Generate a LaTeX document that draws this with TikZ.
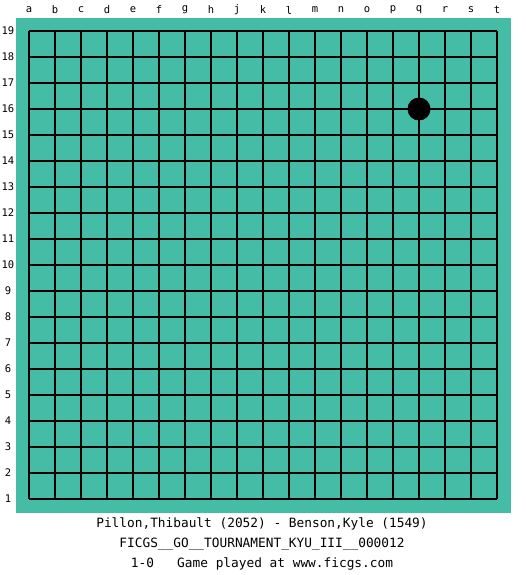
\documentclass[tikz,border=0pt]{standalone}
\usepackage{fontspec}
\setmonofont{DejaVu Sans Mono}
\definecolor{boardgreen}{RGB}{69,189,166}

\begin{document}
\begin{tikzpicture}[
    x = 1pt,
    y = -1pt,
    line width = 1.1pt,
    coord/.style = {
      font = \ttfamily\fontsize{10.5}{12}\selectfont,
      inner sep = 0pt
    },
    caption/.style = {
      font = \ttfamily\fontsize{12.8}{14}\selectfont,
      inner sep = 0pt
    },
    stone/.style = {
      fill = black,
      circle,
      inner sep = 0pt,
      minimum size = 23pt
    }
  ]
  \useasboundingbox (0,0) rectangle (525,575);
  \coordinate (O) at (29,31);

  \path[fill=boardgreen] (16,18) rectangle (511,513);

  \foreach \i in {0,...,18} {
    \draw (29+26*\i,31) -- (29+26*\i,499);
    \draw (29,31+26*\i) -- (497,31+26*\i);
  }

  \foreach \l [count=\i from 0] in {a,b,c,d,e,f,g,h,j,k,l,m,n,o,p,q,r,s,t}
    \node[coord] (col-\l) at (29+26*\i,10) {\l};
  \foreach \n in {1,...,19}
    \node[coord] (row-\n) at (8,31+26*19-26*\n) {\n};

  \node[stone] (q16) at (29+26*15,31+26*3) {};

  \node[caption] (players) at (262,524) {Pillon,Thibault (2052) - Benson,Kyle (1549)};
  \node[caption] (event) at (262,544) {FICGS\_\_GO\_\_TOURNAMENT\_KYU\_III\_\_000012};
  \node[caption] (result) at (262,564) {1-0\ \ \ Game played at www.ficgs.com};

\end{tikzpicture}
\end{document}
